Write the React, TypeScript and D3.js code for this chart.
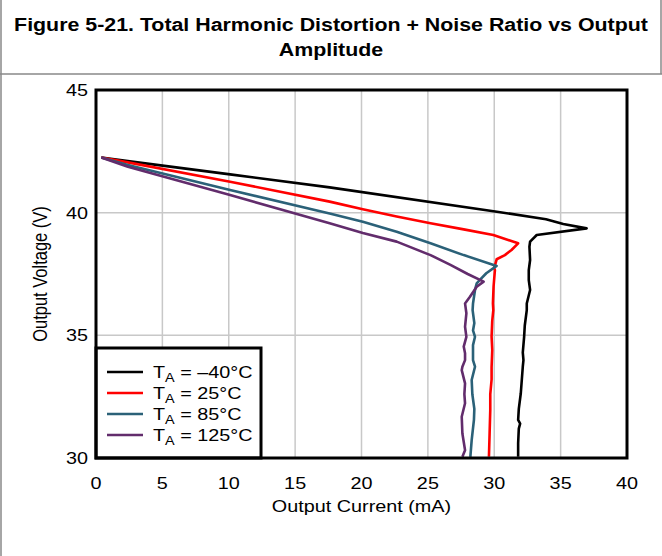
import React from "react";
import * as d3 from "d3";

const xTicks = [0, 5, 10, 15, 20, 25, 30, 35, 40];
const yTicks = [30, 35, 40, 45];
const titleLines = ["Figure 5-21. Total Harmonic Distortion + Noise Ratio vs Output", "Amplitude"];
const seriesNames = ["–40°C", "25°C", "85°C", "125°C"];
const seriesColors = ["#000000", "#ff0000", "#2b6178", "#622c6c"];

// [current mA, voltage V]
const curveM40: [number, number][] = [
  [0.4, 42.25], [2.4, 42.1], [10.1, 41.56], [17.6, 41.03], [30.2, 40.04], [33.9, 39.73],
  [35.2, 39.54], [36.96, 39.36], [33.2, 39.09], [32.7, 38.82], [32.65, 38.61], [32.7, 38.07],
  [32.6, 37.66], [32.6, 37.25], [32.7, 36.85], [32.45, 36.3], [32.45, 36.03], [32.3, 35.4],
  [32.25, 34.94], [32.15, 34.3], [32.2, 33.99], [32.15, 33.72], [32.0, 32.64], [31.85, 32.0],
  [31.8, 31.55], [31.95, 31.4], [31.85, 31.2], [31.8, 30.6], [31.8, 30.05],
];
const curve25: [number, number][] = [
  [0.4, 42.25], [2.4, 42.05], [10.1, 41.26], [17.6, 40.45], [20.1, 40.14], [22.65, 39.84],
  [25.2, 39.57], [27.7, 39.32], [29.93, 39.09],
  [31.8, 38.75], [31.3, 38.48], [30.8, 38.27], [30.18, 38.1], [30.0, 37.75], [30.05, 37.66],
  [29.95, 37.0], [29.9, 36.3], [29.93, 36.03], [29.85, 35.6], [29.8, 34.94], [29.85, 34.4],
  [29.8, 33.7], [29.8, 33.2], [29.7, 32.6], [29.7, 31.96], [29.65, 31.0], [29.6, 30.05],
];
const curve85: [number, number][] = [
  [0.4, 42.25], [2.4, 41.94], [10.1, 40.92], [17.6, 39.97], [20.1, 39.63], [22.65, 39.22],
  [25.2, 38.75], [27.7, 38.27], [30.18, 37.83],
  [29.4, 37.53], [28.9, 37.25], [28.68, 37.12], [28.55, 36.85], [28.4, 36.3], [28.37, 36.03],
  [28.5, 35.5], [28.4, 35.2], [28.55, 34.94], [28.4, 34.6], [28.4, 34.27], [28.4, 33.99],
  [28.55, 33.72], [28.3, 33.18], [28.35, 32.6], [28.5, 32.0], [28.47, 31.55], [28.3, 30.73],
  [28.2, 30.05],
];
const curve125: [number, number][] = [
  [0.4, 42.25], [2.4, 41.87], [10.1, 40.72], [17.6, 39.57], [20.1, 39.17], [22.65, 38.82],
  [25.2, 38.27], [26.7, 37.87], [28.0, 37.5], [29.2, 37.19], [28.68, 36.98], [28.17, 36.57],
  [27.8, 36.3], [27.9, 35.9], [27.8, 35.35], [27.9, 34.94], [27.7, 34.54], [27.8, 34.27],
  [27.8, 33.99], [27.6, 33.72], [27.55, 33.58], [27.8, 33.04], [27.75, 32.6], [27.8, 32.23],
  [27.55, 31.68], [27.6, 31.0], [27.8, 30.32], [27.6, 30.05],
];
const curves = [curveM40, curve25, curve85, curve125];

const SX = 1.2;

function T(props: { x: number; y: number; size: number; anchor?: string; bold?: boolean; children: React.ReactNode }) {
  return (
    <text transform={`translate(${props.x},${props.y}) scale(${SX},1)`} textAnchor={props.anchor || "start"}
      fontSize={props.size} fontWeight={props.bold ? "bold" : "normal"}>{props.children}</text>
  );
}

export default function App() {
  const W = 662, H = 556;
  const left = 96, right = 627, top = 90, bottom = 458;
  const x = d3.scaleLinear().domain([0, 40]).range([left, right]);
  const y = d3.scaleLinear().domain([30, 45]).range([bottom, top]);
  const line = d3.line<[number, number]>().x(d => x(d[0])).y(d => y(d[1]));
  const font = "'Liberation Sans', Arial, sans-serif";

  return (
    <svg width={W} height={H} style={{ position: "absolute", left: 0, top: 0, background: "#fff" }}
      fontFamily={font}>
      <rect x={0} y={0} width={W} height={H} fill="#fff" />
      {/* frame */}
      <line x1={1} y1={0} x2={1} y2={H} stroke="#888" strokeWidth={1.5} />
      <line x1={661} y1={0} x2={661} y2={74} stroke="#888" strokeWidth={1.5} />
      <line x1={0} y1={74} x2={W} y2={74} stroke="#888" strokeWidth={1.5} />
      {titleLines.map((t, i) => (
        <T key={i} x={W / 2} y={31 + i * 25} anchor="middle" bold size={17.8}>{t}</T>
      ))}
      {/* grid */}
      {xTicks.slice(1, -1).map(t => (
        <line key={"gx" + t} x1={x(t)} x2={x(t)} y1={top} y2={bottom} stroke="#c8c8c8" strokeWidth={1.5} />
      ))}
      {yTicks.slice(1, -1).map(t => (
        <line key={"gy" + t} x1={left} x2={right} y1={y(t)} y2={y(t)} stroke="#c8c8c8" strokeWidth={1.5} />
      ))}
      {/* curves */}
      <defs>
        <clipPath id="clip"><rect x={left} y={top} width={right - left} height={bottom - top} /></clipPath>
      </defs>
      <g clipPath="url(#clip)">
        {curves.map((c, i) => (
          <path key={i} d={line(c) || ""} fill="none" stroke={seriesColors[i]} strokeWidth={2.6}
            strokeLinejoin="round" />
        ))}
      </g>
      {/* legend */}
      <rect x={left} y={348} width={261 - left} height={bottom - 348} fill="#fff" stroke="#000" strokeWidth={3} />
      {seriesNames.map((n, i) => {
        const ly = 372 + i * 21;
        return (
          <g key={n}>
            <line x1={107} x2={143} y1={ly} y2={ly} stroke={seriesColors[i]} strokeWidth={2.6} />
            <T x={153} y={ly + 6} size={16.5}>
              T<tspan fontSize={12} dy={4}>A</tspan><tspan dy={-4}> = {n}</tspan>
            </T>
          </g>
        );
      })}
      {/* plot frame */}
      <rect x={left} y={top} width={right - left} height={bottom - top} fill="none" stroke="#000" strokeWidth={3} />
      {/* ticks */}
      {xTicks.map(t => (
        <T key={"xt" + t} x={x(t)} y={489} anchor="middle" size={16.5}>{t}</T>
      ))}
      {yTicks.map(t => (
        <T key={"yt" + t} x={88} y={y(t) + 6} anchor="end" size={16.5}>{t}</T>
      ))}
      <T x={(left + right) / 2} y={512} anchor="middle" size={16.5}>Output Current (mA)</T>
      <text transform={`translate(47,${(top + bottom) / 2}) rotate(-90) scale(1,${SX})`} textAnchor="middle" fontSize={16.5}>Output Voltage (V)</text>
    </svg>
  );
}
